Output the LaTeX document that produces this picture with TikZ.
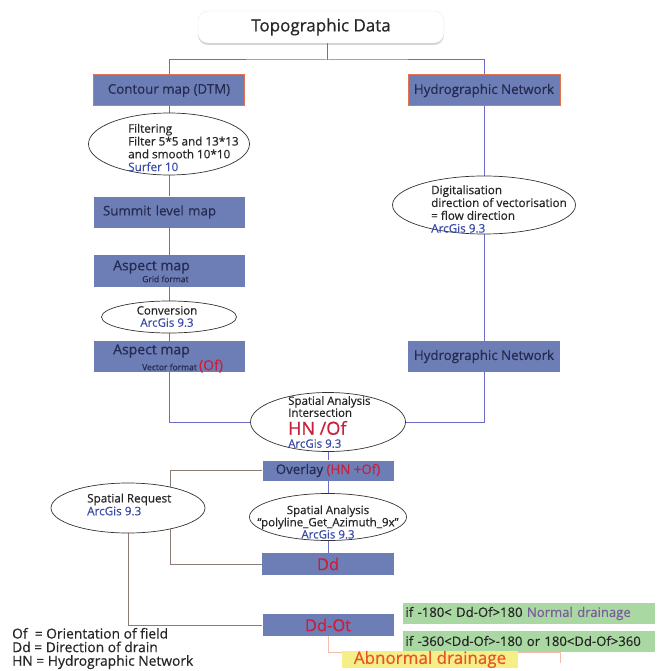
\documentclass[tikz,border=0pt]{standalone}
\usepackage{fontspec}
\setmainfont{Open Sans}[RawFeature={embolden=0.5}]
\usetikzlibrary{shapes.geometric,shadows,calc}
\pgfdeclarelayer{background}
\pgfsetlayers{background,main}
\definecolor{boxblue}{HTML}{6D7EB6}
\definecolor{boxtext}{HTML}{252A50}
\definecolor{lineblue}{HTML}{6C6CC4}
\definecolor{linebrown}{HTML}{8A7B74}
\definecolor{txtblue}{HTML}{3B4CA8}
\definecolor{txtred}{HTML}{C8203A}
\definecolor{orangeb}{HTML}{E2734F}
\definecolor{greenb}{HTML}{A9D8A2}
\definecolor{yellowb}{HTML}{F6EE86}
\definecolor{abnred}{HTML}{E8532B}
\definecolor{purpletxt}{HTML}{7B5C9C}
\definecolor{pinkline}{HTML}{F4BCAA}
\newcommand\fsz[2]{\fontsize{#1}{#2}\selectfont}
\begin{document}
\begin{tikzpicture}[x=1pt,y=-1pt,
  bx/.style={rectangle, fill=boxblue, text=boxtext, inner sep=0pt, font=\fsz{13.3}{15}},
  obx/.style={bx, draw=orangeb, line width=1pt},
  ell/.style={ellipse, draw=black!80, fill=white, line width=0.7pt, inner sep=0pt},
  etxt/.style={text=black!85, align=left, inner sep=0pt, font=\fsz{11.7}{12.8}},
  ctxt/.style={text=black!85, align=center, inner sep=0pt, font=\fsz{11.5}{12.2}},
  btxt/.style={text=boxtext, align=left, inner sep=0pt},
  bl/.style={draw=lineblue, line width=1pt},
  br/.style={draw=linebrown, line width=1pt},
  pk/.style={draw=pinkline, line width=0.8pt},
  gbox/.style={rectangle, fill=greenb, inner sep=0pt, text=black!85, font=\fsz{13.1}{14}, align=left}
]
\useasboundingbox (0,0) rectangle (660,671);

% top
\node[rectangle, rounded corners=10pt, fill=white, draw=black!8, minimum width=246pt, minimum height=32pt,
      drop shadow={shadow xshift=0pt, shadow yshift=-2pt, opacity=0.35},
      font=\fsz{17}{18}, text=black!85] (top) at (321,27) {Topographic Data};
\coordinate (sp) at (327,60);

% left column
\node[obx, minimum width=151pt, minimum height=31pt] (contour) at (169,90.5) {Contour map (DTM)};
\node[ell, minimum width=161pt, minimum height=62pt] (filt) at (169,144) {};
\node[etxt, anchor=west] (filtT) at (128,147.5) {Filtering\\Filter 5*5 and 13*13\\and smooth 10*10\\{\color{txtblue}Surfer 10}};
\node[bx, minimum width=151pt, minimum height=31pt, text width=132pt, align=left] (summit) at (169,212) {Summit level map};
\node[bx, minimum width=151pt, minimum height=32pt] (asp1) at (169,271) {};
\node[btxt, anchor=west, font=\fsz{14}{15}] (asp1a) at (113,267) {Aspect map};
\node[btxt, anchor=west, font=\fsz{8.5}{9}] (asp1b) at (142,279) {Grid format};
\node[ell, minimum width=135pt, minimum height=32pt] (conv) at (169,317) {};
\node[ctxt] (convT) at (167,316.5) {Conversion\\{\color{txtblue}ArcGis 9.3}};
\node[bx, minimum width=151pt, minimum height=31pt] (asp2) at (169,356.5) {};
\node[btxt, anchor=west, font=\fsz{14}{15}] (asp2a) at (113,351) {Aspect map};
\node[btxt, anchor=west, font=\fsz{8.5}{9}] (asp2b) at (142,366) {Vector format \textcolor{txtred}{\fsz{14}{15}(Of)}};

% right column
\node[obx, minimum width=152pt, minimum height=31pt] (hyd1) at (484,90.5) {Hydrographic Network};
\node[ell, minimum width=183pt, minimum height=58pt] (digit) at (484,205) {};
\node[etxt, anchor=west] (digitT) at (431,209) {Digitalisation\\direction of vectorisation\\= flow direction\\{\color{txtblue}ArcGis 9.3}};
\node[bx, minimum width=152pt, minimum height=31pt] (hyd2) at (484,356.5) {Hydrographic Network};

% centre
\node[ell, minimum width=155pt, minimum height=59pt] (inter) at (328,422) {};
\node[etxt, anchor=west, font=\fsz{11.5}{12}] (interT) at (288,422) {Spatial Analysis\\Intersection\\[3pt]{\color{txtred}\fsz{18}{17}HN /Of}\\[1pt]{\color{txtblue}ArcGis 9.3}};
\node[bx, minimum width=131pt, minimum height=20pt] (overlay) at (328,470.5) {Overlay \textcolor{txtred}{(HN +Of)}};
\node[ell, minimum width=157pt, minimum height=47pt] (poly) at (328,517) {};
\node[ctxt] (polyT) at (328,522) {Spatial Analysis\\“polyline\_Get\_Azimuth\_9x”\\{\color{txtblue}ArcGis 9.3}};
\node[bx, minimum width=132pt, minimum height=22pt, text=txtred, font=\fsz{16.5}{17}] (dd) at (328,564) {Dd};
\node[ell, minimum width=154pt, minimum height=50pt] (sreq) at (128,508) {};
\node[etxt, anchor=west] (sreqT) at (87,504.5) {Spatial Request\\{\color{txtblue}ArcGis 9.3}};
\node[bx, minimum width=131pt, minimum height=22pt, text=txtred, font=\fsz{16.5}{17}] (ddot) at (328,625) {Dd-Ot};

% results
\node[gbox, minimum width=252pt, minimum height=21pt, text width=247pt] (g1) at (529,613.5) {if -180< Dd-Of>180 \textcolor{purpletxt}{Normal drainage}};
\node[gbox, minimum width=252pt, minimum height=21pt, text width=247pt] (g2) at (529,641) {if -360<Dd-Of>-180 or 180<Dd-Of>360};
\node[rectangle, fill=yellowb, inner sep=0pt, minimum width=176pt, minimum height=16pt, text=abnred, font=\fsz{17}{17}] (abn) at (430,659.5) {Abnormal drainage};

% legend
\node[anchor=west, align=left, inner sep=0pt, text=black!85, font=\fsz{13.8}{13.6}] (legend) at (12,648.5) {Of\ \ = Orientation of field\\Dd = Direction of drain\\HN = Hydrographic Network};

\begin{pgfonlayer}{background}
\draw[bl] (top.south -| sp) -- (sp);
\draw[bl] (contour.north) |- (sp) -| (hyd1.north);
\draw[bl] (contour) -- (filt) -- (summit) -- (asp1) -- (conv) -- (asp2);
\draw[bl] (asp2.south) |- (inter.west);
\draw[bl] (hyd1) -- (digit) -- (hyd2);
\draw[bl] (hyd2.south) |- (inter.east);
\draw[bl] (inter) -- (overlay) -- (poly) -- (dd);
\draw[br] (overlay.west) -| ($(dd.west)+(-91,0)$) -- (dd.west);
\draw[br] (sreq.south) |- (ddot.west);
\draw[pk] (ddot.south) |- ($(abn.north west)+(0,2)$);
\draw[pk] ($(abn.north east)+(0,2)$) -- ++(42,0) -- ++(0,10);
\end{pgfonlayer}
\end{tikzpicture}
\end{document}
